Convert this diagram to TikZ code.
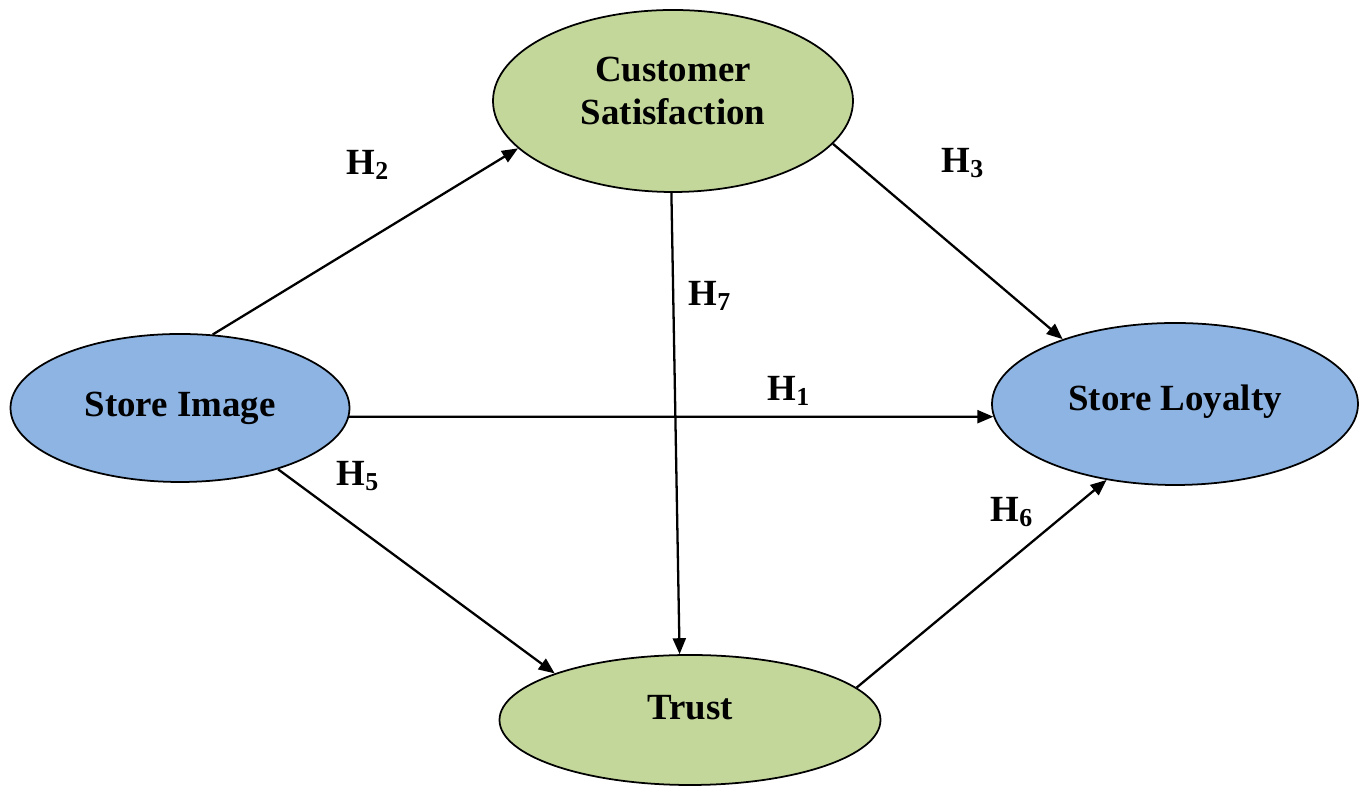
\documentclass[tikz,border=0pt]{standalone}
\usepackage{xcolor}
\usepackage{tikz}
\usepackage{fontspec}
\setmainfont{Liberation Serif}
\usetikzlibrary{shapes.geometric,arrows.meta}

\definecolor{csgreen}{RGB}{196,215,155}
\definecolor{csblue}{RGB}{142,180,227}

\begin{document}
\begin{tikzpicture}[
    construct/.style={ellipse, draw, line width=1pt, font=\fontsize{21}{24.5}\selectfont\bfseries, align=center},
    hyp/.style={-{Triangle[length=0.32cm,width=0.26cm]}, line width=1.3pt},
    hlabel/.style={font=\fontsize{21}{24}\selectfont\bfseries, inner sep=0pt}
]
    \useasboundingbox (0,0) rectangle (27.18,15.74);

    \node[construct, fill=csblue, minimum width=6.78cm, minimum height=2.96cm] (si) at (3.60,7.58) {Store Image};
    \node[construct, fill=csgreen, minimum width=7.2cm, minimum height=3.64cm, text depth=0.4cm] (cs) at (13.46,13.72) {Customer\\Satisfaction};
    \node[construct, fill=csblue, minimum width=7.32cm, minimum height=3.24cm, text depth=0.24cm] (sl) at (23.50,7.66) {Store Loyalty};
    \node[construct, fill=csgreen, minimum width=7.62cm, minimum height=2.6cm, text depth=0.52cm] (tr) at (13.80,1.34) {Trust};

    \draw[hyp] (si.66) -- (cs.197);
    \draw[hyp] (cs.-15) -- (sl.150);
    \draw[hyp] (cs.269) -- (tr.99);
    \draw[hyp] (si.-3) -- (sl.184);
    \draw[hyp] (si.-32) -- (tr.161);
    \draw[hyp] (tr.11) -- (sl.228);

    \node[hlabel] (h1) at (15.78,7.92) {H\textsubscript{1}};
    \node[hlabel] (h2) at (7.36,12.44) {H\textsubscript{2}};
    \node[hlabel] (h3) at (19.26,12.48) {H\textsubscript{3}};
    \node[hlabel] (h5) at (7.16,6.22) {H\textsubscript{5}};
    \node[hlabel] (h6) at (20.24,5.50) {H\textsubscript{6}};
    \node[hlabel] (h7) at (14.20,9.82) {H\textsubscript{7}};
\end{tikzpicture}
\end{document}
